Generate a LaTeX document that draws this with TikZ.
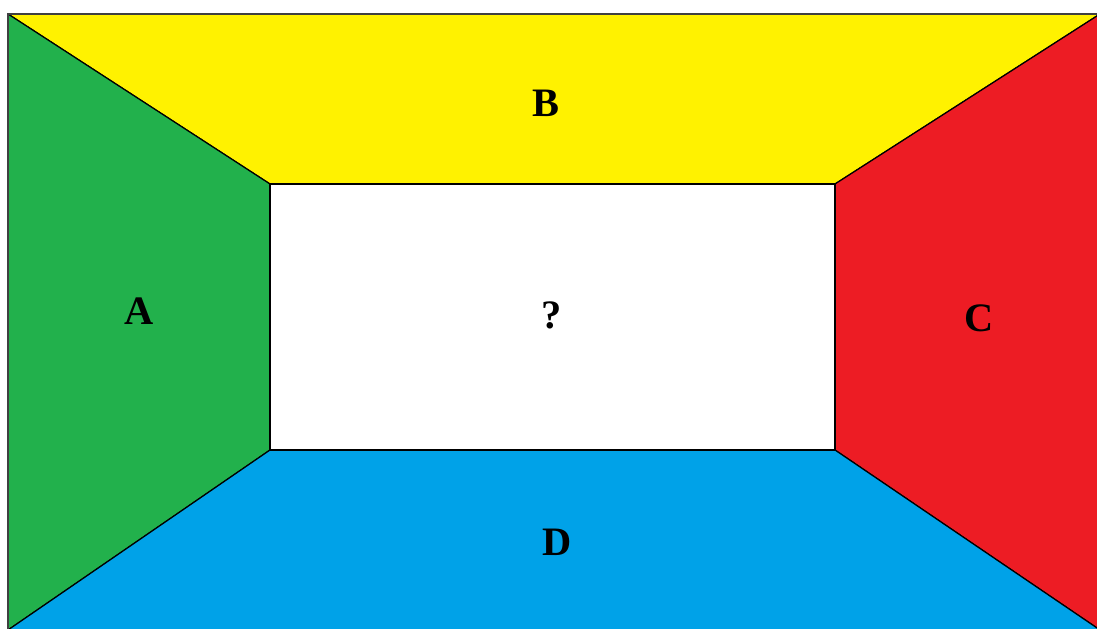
\documentclass[tikz,border=0pt]{standalone}
\usepackage{fontspec}
\setmainfont{Liberation Serif}
\usetikzlibrary{positioning}
\definecolor{wallGreen}{HTML}{22B14C}
\definecolor{wallYellow}{HTML}{FFF200}
\definecolor{wallRed}{HTML}{ED1C24}
\definecolor{wallBlue}{HTML}{00A2E8}

\tikzset{
  wall/.style={draw=black, line width=0.7pt, line join=round},
  wallLabel/.style={font=\fontsize{23}{28}\selectfont\bfseries, inner sep=0pt}
}

\begin{document}
\begin{tikzpicture}[x=0.02cm, y=-0.02cm]
    \useasboundingbox (0,0) rectangle (1097,628);
    \clip (0,0) rectangle (1097,628);

    % Corners
    \coordinate (o1) at (8,14);
    \coordinate (o2) at (1100,14);
    \coordinate (o3) at (1100,630);
    \coordinate (o4) at (8,630);
    \coordinate (i1) at (270,184);
    \coordinate (i2) at (835,184);
    \coordinate (i3) at (835,450);
    \coordinate (i4) at (270,450);

    % Walls
    \filldraw[wall, fill=wallYellow] (o1) -- (o2) -- (i2) -- (i1) -- cycle;
    \filldraw[wall, fill=wallGreen] (o1) -- (i1) -- (i4) -- (o4) -- cycle;
    \filldraw[wall, fill=wallRed] (o2) -- (o3) -- (i3) -- (i2) -- cycle;
    \filldraw[wall, fill=wallBlue] (i4) -- (i3) -- (o3) -- (o4) -- cycle;
    \filldraw[fill=white, draw=black, line width=1.1pt] (i1) rectangle (i3);

    % Frame
    \draw[black!75, line width=1.2pt] (o4) -- (o1) -- (o2);

    % Labels
    \node[wallLabel] (lblA) at (139,311) {A};
    \node[wallLabel] (lblB) at (546,103) {B};
    \node[wallLabel] (lblC) at (979,318) {C};
    \node[wallLabel] (lblD) at (557,542) {D};
    \node[wallLabel] (lblQ) at (552,315) {?};
\end{tikzpicture}
\end{document}
